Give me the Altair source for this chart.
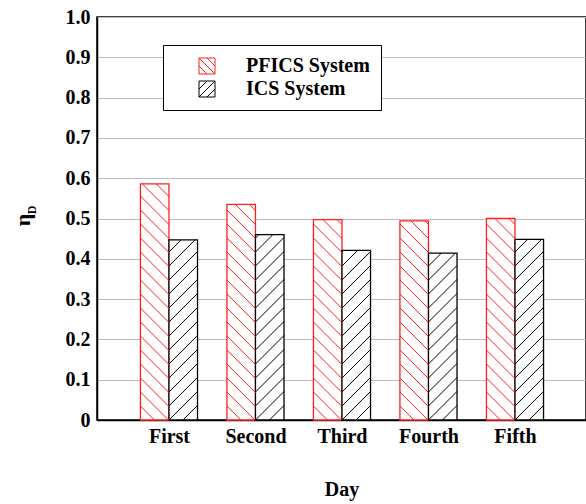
import math
import altair as alt
import pandas as pd

# Daily efficiency of the two systems
days = ["First", "Second", "Third", "Fourth", "Fifth"]
pfics = [0.586, 0.535, 0.497, 0.494, 0.500]
ics = [0.447, 0.460, 0.421, 0.414, 0.448]
systems = ["PFICS System", "ICS System"]
colors = ["#ff2020", "#000000"]

FONT = "Liberation Serif"
W, H = 489, 403
XMIN, XMAX = -0.832, 4.821
BAR_W = 0.33
SPACING = 14.0  # vertical distance between hatch lines, px
PX_X = W / (XMAX - XMIN)
PX_Y = H / 1.0

rows = []
for i, d in enumerate(days):
    rows.append({"Day": d, "System": systems[0], "x0": i - BAR_W, "x1": i,
                 "value": pfics[i], "col": colors[0], "dir": "\\"})
    rows.append({"Day": d, "System": systems[1], "x0": i, "x1": i + BAR_W,
                 "value": ics[i], "col": colors[1], "dir": "/"})
bars = pd.DataFrame(rows)


def hatch_segments(r):
    w = (r["x1"] - r["x0"]) * PX_X
    h = r["value"] * PX_Y
    segs = []
    if r["dir"] == "/":
        for k in range(-math.ceil(w / SPACING), math.ceil(h / SPACING) + 1):
            c = k * SPACING
            u0, u1 = max(0.0, -c), min(w, h - c)
            if u1 > u0:
                segs.append((u0, u0 + c, u1, u1 + c))
    else:
        for k in range(0, math.ceil((h + w) / SPACING) + 1):
            c = k * SPACING
            u0, u1 = max(0.0, c - h), min(w, c)
            if u1 > u0:
                segs.append((u0, c - u0, u1, c - u1))
    out = []
    for u0, v0, u1, v1 in segs:
        out.append({"hx": r["x0"] + u0 / PX_X, "hy": v0 / PX_Y,
                    "hx2": r["x0"] + u1 / PX_X, "hy2": v1 / PX_Y,
                    "col": r["col"]})
    return out


hatch = pd.DataFrame([s for _, r in bars.iterrows() for s in hatch_segments(r)])

label_expr = "[" + ",".join(f"'{d}'" for d in days) + "][round(datum.value)]"

xscale = alt.Scale(domain=[XMIN, XMAX], nice=False, zero=False)
yscale = alt.Scale(domain=[0, 1], nice=False)

x_axis = alt.Axis(values=list(range(len(days))), labelExpr=label_expr,
                  title="Day", grid=False, ticks=False, domainColor="black",
                  domainWidth=1.5, labelFont=FONT, labelFontSize=20,
                  labelFontWeight="bold", labelColor="black", labelPadding=6,
                  titleFont=FONT, titleFontSize=20, titleFontWeight="bold",
                  titleColor="black", titlePadding=33)
y_axis = alt.Axis(values=[round(0.1 * k, 1) for k in range(11)],
                  labelExpr="datum.value == 0 ? '0' : format(datum.value, '.1f')",
                  title=None, grid=True, gridColor="#bdbdbd", gridWidth=1,
                  ticks=False, domainColor="black", domainWidth=1.5,
                  labelFont=FONT, labelFontSize=20, labelFontWeight="bold",
                  labelColor="black", labelPadding=7)

rect = alt.Chart(bars).mark_rect(fill="white", strokeWidth=1.3).encode(
    x=alt.X("x0:Q", scale=xscale, axis=x_axis),
    x2="x1:Q",
    y=alt.Y("value:Q", scale=yscale, axis=y_axis),
    y2=alt.datum(0),
    stroke=alt.Stroke("col:N", scale=None),
)

lines = alt.Chart(hatch).mark_rule(strokeWidth=1).encode(
    x="hx:Q", x2="hx2:Q", y="hy:Q", y2="hy2:Q",
    stroke=alt.Stroke("col:N", scale=None),
)

path_back = "M-1,-1H1V1H-1Z M-1,0L0,1 M-1,-1L1,1 M0,-1L1,0"
path_fwd = "M-1,-1H1V1H-1Z M-1,0L0,-1 M-1,1L1,-1 M0,1L1,0"

legend_layer = alt.Chart(bars).mark_point(opacity=0, filled=False).encode(
    x="x0:Q", y="value:Q",
    stroke=alt.Stroke("System:N", scale=alt.Scale(domain=systems, range=colors),
                      legend=alt.Legend(orient="none", legendX=66, legendY=28,
                                        title=None)),
    shape=alt.Shape("System:N", scale=alt.Scale(domain=systems,
                                                range=[path_back, path_fwd])),
)

ylab = alt.Chart(pd.DataFrame({"t": ["η"]})).mark_text(
    font=FONT, fontSize=22, fontWeight="bold", angle=270, align="center",
    baseline="middle", color="black").encode(
    text="t:N", x=alt.value(-74), y=alt.value(203))
ysub = alt.Chart(pd.DataFrame({"t": ["D"]})).mark_text(
    font=FONT, fontSize=12, fontWeight="bold", angle=270, align="center",
    baseline="middle", color="black").encode(
    text="t:N", x=alt.value(-65), y=alt.value(193))

chart = alt.layer(rect, lines, legend_layer, ylab, ysub).properties(
    width=W, height=H,
    autosize=alt.AutoSizeParams(type="none"),
    padding={"left": 97, "top": 17, "right": 0, "bottom": 84},
).configure_view(stroke="black", strokeWidth=1.5).configure_legend(
    strokeColor="black", fillColor="white", padding=11, cornerRadius=0,
    symbolOffset=23, symbolSize=256, symbolStrokeWidth=1, symbolOpacity=1,
    symbolFillColor="transparent", labelOffset=29, rowPadding=3,
    labelFont=FONT, labelFontSize=20, labelFontWeight="bold",
    labelColor="black",
)

chart.save("out.html", embed_options={"renderer": "svg", "actions": False})
